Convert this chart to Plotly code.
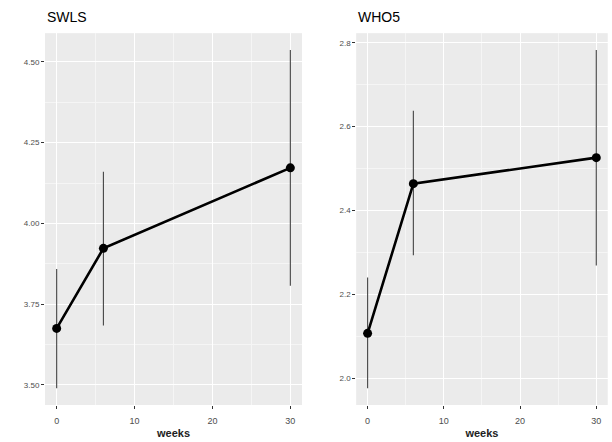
import plotly.graph_objects as go

weeks = [0, 6, 30]
swls_mean = [3.675, 3.923, 4.172]
swls_upper = [3.859, 4.160, 4.537]
swls_lower = [3.490, 3.684, 3.807]
who5_mean = [2.107, 2.464, 2.526]
who5_upper = [2.240, 2.638, 2.783]
who5_lower = [1.976, 2.293, 2.269]
panel_titles = ["SWLS", "WHO5"]

fig = go.Figure()

def add_panel(idx, mean, upper, lower):
    xa = "x" if idx == 1 else "x2"
    ya = "y" if idx == 1 else "y2"
    fig.add_trace(go.Scatter(
        x=weeks, y=mean, mode="lines+markers",
        line=dict(color="black", width=2.6),
        marker=dict(color="black", size=9),
        error_y=dict(type="data", symmetric=False,
                     array=[u - m for u, m in zip(upper, mean)],
                     arrayminus=[m - l for m, l in zip(mean, lower)],
                     color="#444444", thickness=1.1, width=0),
        xaxis=xa, yaxis=ya, showlegend=False))

add_panel(1, swls_mean, swls_upper, swls_lower)
add_panel(2, who5_mean, who5_upper, who5_lower)

def axis_common(size):
    return dict(
        showgrid=True, gridcolor="white", gridwidth=1.1,
        zeroline=False, showline=False,
        ticks="outside", ticklen=3, tickcolor="#333333", tickwidth=1,
        tickfont=dict(family="Liberation Sans, Arial", size=size, color="#4d4d4d"),
    )

xtitle = dict(text="<b>weeks</b>", font=dict(family="Liberation Sans, Arial", size=11, color="#222"), standoff=4)
xr = [-1.5, 31.5]
minor_grid = dict(showgrid=True, gridcolor="#F5F5F5", gridwidth=0.6, ticks="")
fig.update_layout(
    width=612, height=442,
    margin=dict(l=0, r=0, t=0, b=0),
    paper_bgcolor="white", plot_bgcolor="#EBEBEB",
    xaxis=dict(domain=[0.0735, 0.4935], range=xr, tickvals=[0, 10, 20, 30],
               minor=dict(tickvals=[5, 15, 25], **minor_grid),
               title=xtitle, ticklabelstandoff=4,
               anchor="y", **axis_common(9)),
    yaxis=dict(domain=[0.0837, 0.925], range=[3.438, 4.589],
               tickvals=[3.5, 3.75, 4.0, 4.25, 4.5], ticktext=["3.50", "3.75", "4.00", "4.25", "4.50"],
               minor=dict(tickvals=[3.625, 3.875, 4.125, 4.375], **minor_grid),
               anchor="x", **axis_common(8)),
    xaxis2=dict(domain=[0.582, 0.993], range=xr, tickvals=[0, 10, 20, 30],
                minor=dict(tickvals=[5, 15, 25], **minor_grid),
                title=xtitle, ticklabelstandoff=4,
                anchor="y2", **axis_common(9)),
    yaxis2=dict(domain=[0.0837, 0.925], range=[1.936, 2.823],
                tickvals=[2.0, 2.2, 2.4, 2.6, 2.8], ticktext=["2.0", "2.2", "2.4", "2.6", "2.8"],
                minor=dict(tickvals=[2.1, 2.3, 2.5, 2.7], **minor_grid),
                anchor="x2", **axis_common(8)),
    annotations=[
        dict(text=panel_titles[0], x=0.0735, y=0.925, xref="paper", yref="paper",
             xanchor="left", yanchor="bottom", yshift=6, showarrow=False,
             font=dict(family="Liberation Sans, Arial", size=14, color="black")),
        dict(text=panel_titles[1], x=0.582, y=0.925, xref="paper", yref="paper",
             xanchor="left", yanchor="bottom", yshift=6, showarrow=False,
             font=dict(family="Liberation Sans, Arial", size=14, color="black")),
    ],
)

fig.write_html("out.html")
